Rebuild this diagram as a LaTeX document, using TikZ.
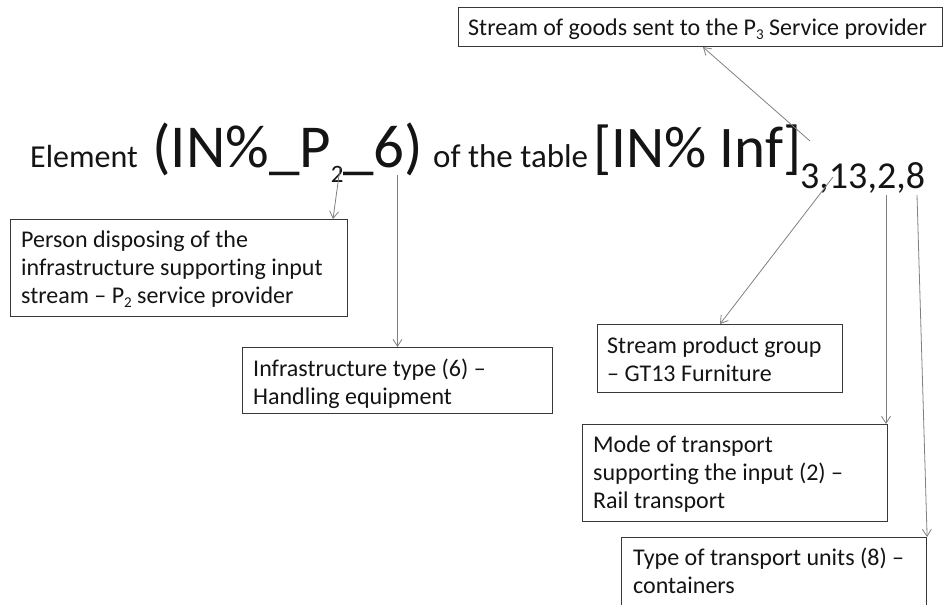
\documentclass[tikz,border=0pt]{standalone}
\usepackage{fontspec}
\setmainfont{Carlito}[Ligatures=NoCommon]
\usetikzlibrary{arrows.meta}
\newcommand\sbx[3]{{\fontsize{#1}{#1}\selectfont\raisebox{#2}{#3}}}
\newcommand\lns[1]{\vtop{\baselineskip=28pt\lineskiplimit=-20pt #1}}
\begin{document}
\begin{tikzpicture}[x=1pt,y=-1pt,
  boxstyle/.style={draw=black!78, line width=1.1pt, inner sep=0pt, anchor=north west},
  txt/.style={anchor=base west, inner sep=0pt, text=black!92, font=\fontsize{24}{28}\selectfont},
  mid/.style={anchor=base west, inner sep=0pt, text=black!92, font=\fontsize{33}{33}\selectfont},
  big/.style={anchor=base west, inner sep=0pt, text=black!92, font=\fontsize{61}{61}\selectfont},
  conn/.style={draw=black!50, line width=0.8pt, -{Straight Barb[length=7pt,width=9pt]}},
]
\useasboundingbox (0,0) rectangle (943,605);

% main formula
\node[mid, font=\fontsize{32}{32}\selectfont] (elem) at (30,167) {Element};
\node[big] (big1) at (152,167) {(IN\%\_P\sbx{25}{-15pt}{2}\_6)};
\node[mid] (oftab) at (433,167) {of the table};
\node[big, font=\fontsize{59}{59}\selectfont] (big2) at (593,167) {[IN\% Inf]};
\node[anchor=base west, inner sep=0pt, text=black!92, font=\fontsize{38}{38}\selectfont] (subs) at (800,188) {3,13,2,8};

% boxes
\node[boxstyle, minimum width=484pt, minimum height=39pt] (btop) at (458,7) {};
\node[txt] (ttop) at (468,35) {Stream of goods sent to the P\sbx{15}{-4pt}{3} Service provider};

\node[boxstyle, minimum width=337pt, minimum height=97pt] (bperson) at (10,219) {};
\node[txt] (tperson) at (21,247) {\lns{\hbox{Person disposing of the}\hbox{infrastructure supporting input}\hbox{stream -- P\sbx{15}{-4pt}{2} service provider}}};

\node[boxstyle, minimum width=310pt, minimum height=66pt] (binfra) at (242,347) {};
\node[txt] (tinfra) at (253,376) {\lns{\hbox{Infrastructure type (6) --}\hbox{Handling equipment}}};

\node[boxstyle, minimum width=245pt, minimum height=68pt] (bgroup) at (597,324) {};
\node[txt] (tgroup) at (607,353) {\lns{\hbox{Stream product group}\hbox{-- GT13 Furniture}}};

\node[boxstyle, minimum width=305pt, minimum height=97pt] (bmode) at (582,424) {};
\node[txt] (tmode) at (593,452) {\lns{\hbox{Mode of transport}\hbox{supporting the input (2) --}\hbox{Rail transport}}};

\node[boxstyle, minimum width=305pt, minimum height=100pt] (bunits) at (621,537) {};
\node[txt] (tunits) at (633,565) {\lns{\hbox{Type of transport units (8) --}\hbox{containers}}};

% connector start points
\coordinate (c3) at (810,141);
\coordinate (cp2) at (340,168);
\coordinate (c6) at (397.5,175);
\coordinate (c13) at (833,177);
\coordinate (c2) at (886,195);
\coordinate (c8) at (917,195);

\draw[conn] (c3) -- ([xshift=245pt]btop.south west);
\draw[conn] (cp2) -- ([xshift=323pt]bperson.north west);
\draw[conn] (c6) -- ([xshift=155.5pt]binfra.north west);
\draw[conn] (c13) -- ([xshift=123pt]bgroup.north west);
\draw[conn] (c2) -- ([xshift=304pt]bmode.north west);
\draw[conn] (c8) -- (bunits.north east);
\end{tikzpicture}
\end{document}
